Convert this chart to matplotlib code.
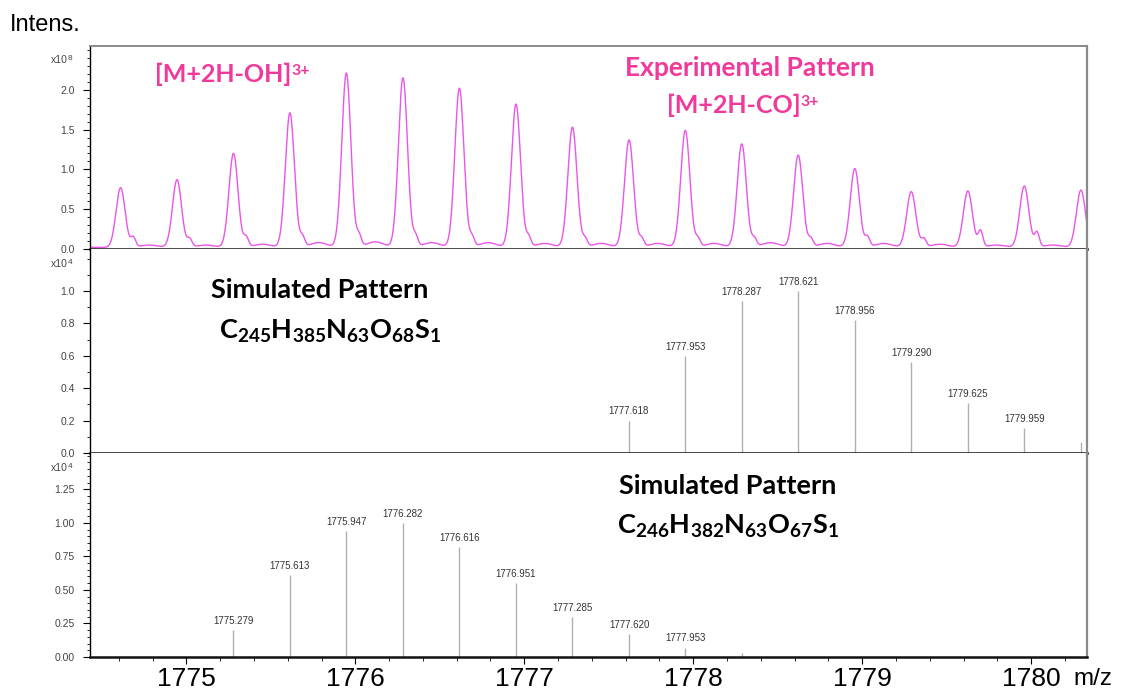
import numpy as np
import matplotlib.pyplot as plt
from matplotlib.ticker import MultipleLocator, FixedLocator

plt.rcParams['font.family'] = ['Liberation Sans', 'DejaVu Sans']
plt.rcParams['mathtext.fontset'] = 'custom'
plt.rcParams['mathtext.rm'] = 'Lato:bold'
plt.rcParams['mathtext.it'] = 'Lato:bold'
plt.rcParams['mathtext.bf'] = 'Lato:bold'

# Experimental profile: peak centres (m/z), apex heights (x1e8) and the
# small shoulder that trails each peak on the high-mass side
exp_mz = [1774.611, 1774.945, 1775.279, 1775.613, 1775.947, 1776.282,
          1776.616, 1776.951, 1777.285, 1777.620, 1777.953, 1778.287,
          1778.621, 1778.956, 1779.290, 1779.625, 1779.959, 1780.294]
exp_int = [0.75, 0.85, 1.18, 1.69, 2.19, 2.13, 2.00, 1.80, 1.51, 1.35,
           1.47, 1.30, 1.16, 0.99, 0.70, 0.71, 0.77, 0.72]
shoulder_int = [0.12, 0.10, 0.12, 0.12, 0.14, 0.13, 0.12, 0.12, 0.10, 0.10,
                0.10, 0.10, 0.10, 0.12, 0.10, 0.20, 0.18, 0.10]
valley_int = [0.03, 0.03, 0.04, 0.06, 0.07, 0.06, 0.06, 0.05, 0.05, 0.05,
              0.05, 0.06, 0.05, 0.05, 0.04, 0.03, 0.03, 0.03]

# Simulated isotope pattern, [M+2H-OH]3+ (C245H385N63O68S1), x1e4
sim1_mz = [1777.618, 1777.953, 1778.287, 1778.621, 1778.956, 1779.290,
           1779.625, 1779.959, 1780.294]
sim1_int = [0.20, 0.60, 0.94, 1.00, 0.82, 0.56, 0.31, 0.155, 0.07]
sim1_labels = ['1777.618', '1777.953', '1778.287', '1778.621', '1778.956',
               '1779.290', '1779.625', '1779.959', '']

# Simulated isotope pattern, [M+2H-CO]3+ (C246H382N63O67S1), x1e4
sim2_mz = [1775.279, 1775.613, 1775.947, 1776.282, 1776.616, 1776.951,
           1777.285, 1777.620, 1777.953, 1778.287, 1778.621]
sim2_int = [0.20, 0.61, 0.94, 1.00, 0.82, 0.55, 0.30, 0.17, 0.07, 0.03, 0.01]
sim2_labels = ['1775.279', '1775.613', '1775.947', '1776.282', '1776.616',
               '1776.951', '1777.285', '1777.620', '1777.953', '', '']

xticks = [1775, 1776, 1777, 1778, 1779, 1780]
xmin, xmax = 1774.43, 1780.33

pink = '#F0399B'
trace = '#EA55EA'
stick = '#B0B0B0'
tickgray = '#444444'


def profile(x):
    y = np.zeros_like(x)
    for c, h, s, v in zip(exp_mz, exp_int, shoulder_int, valley_int):
        y += h * np.exp(-0.5 * ((x - c) / 0.027) ** 2)
        y += s * np.exp(-0.5 * ((x - c - 0.075) / 0.014) ** 2)
        y += v * np.exp(-0.5 * ((x - c - 0.17) / 0.05) ** 2)
    return y + 0.02


def superscript(txt, base, size):
    # small raised text glued to the right edge of another text
    return plt.annotate(
        txt, xy=(1.0, 0.93), xycoords=base, ha='left', va='top',
        fontsize=size, color=base.get_color(), family=['Lato', 'DejaVu Sans'],
        fontweight='bold')


fig = plt.figure(figsize=(11.26, 6.96), dpi=100)
left, width = 90 / 1126, (1087 - 90) / 1126
ax1 = fig.add_axes([left, 1 - 249 / 696, width, 203 / 696])
ax2 = fig.add_axes([left, 1 - 453 / 696, width, 204 / 696])
ax3 = fig.add_axes([left, 1 - 657 / 696, width, 204 / 696])

for ax in (ax1, ax2, ax3):
    ax.set_xlim(xmin, xmax)
    ax.spines['left'].set_color('black')
    ax.spines['left'].set_linewidth(1.0)
    ax.spines['bottom'].set_color('#111111')
    ax.spines['bottom'].set_linewidth(1.8)
    ax.spines['right'].set_color('#8a8a8a')
    ax.spines['right'].set_linewidth(1.6)
    ax.spines['top'].set_visible(False)
    ax.tick_params(axis='y', which='major', direction='out', length=5,
                   width=0.8, labelsize=7.5, labelcolor=tickgray, pad=6)
    ax.tick_params(axis='y', which='minor', direction='out', length=2.5,
                   width=0.6)

ax1.spines['top'].set_visible(True)
ax1.spines['top'].set_color('#8a8a8a')
ax1.spines['top'].set_linewidth(1.4)

# top: experimental profile
x = np.linspace(xmin, xmax, 4000)
ax1.plot(x, profile(x), color=trace, lw=1.0)
ax1.set_ylim(0, 2.55)
ax1.yaxis.set_major_locator(FixedLocator([0, 0.5, 1.0, 1.5, 2.0]))
ax1.yaxis.set_minor_locator(MultipleLocator(0.1))
ax1.yaxis.set_major_formatter(lambda v, p: f'{v:.1f}')
ax1.set_xticks([])

# middle: simulated [M+2H-OH]3+
ax2.vlines(sim1_mz, 0, sim1_int, color=stick, lw=1.0)
for m, v, t in zip(sim1_mz, sim1_int, sim1_labels):
    ax2.annotate(t, (m, v), xytext=(0, 3), textcoords='offset points',
                 ha='center', va='bottom', fontsize=7, color='#333333')
ax2.set_ylim(0, 1.26)
ax2.yaxis.set_major_locator(FixedLocator([0, 0.2, 0.4, 0.6, 0.8, 1.0]))
ax2.yaxis.set_minor_locator(MultipleLocator(0.1))
ax2.yaxis.set_major_formatter(lambda v, p: f'{v:.1f}')
ax2.set_xticks([])

# bottom: simulated [M+2H-CO]3+
ax3.vlines(sim2_mz, 0, sim2_int, color=stick, lw=1.0)
for m, v, t in zip(sim2_mz, sim2_int, sim2_labels):
    ax3.annotate(t, (m, v), xytext=(0, 3), textcoords='offset points',
                 ha='center', va='bottom', fontsize=7, color='#333333')
ax3.set_ylim(0, 1.52)
ax3.yaxis.set_major_locator(FixedLocator([0, 0.25, 0.5, 0.75, 1.0, 1.25]))
ax3.yaxis.set_minor_locator(MultipleLocator(0.05))
ax3.yaxis.set_major_formatter(lambda v, p: f'{v:.2f}')
ax3.set_xticks(xticks)
ax3.set_xticklabels([str(t) for t in xticks])
ax3.xaxis.set_minor_locator(MultipleLocator(0.2))
ax3.tick_params(axis='x', which='major', direction='out', length=5,
                width=0.8, labelsize=19, pad=2)
ax3.tick_params(axis='x', which='minor', direction='out', length=3,
                width=0.6)

# scale factors above each y axis
for ax, txt, yy in ((ax1, 'x10', 0.93), (ax2, 'x10', 0.925),
                    (ax3, 'x10', 0.925)):
    t = ax.text(-0.022, yy, txt, transform=ax.transAxes, ha='right',
                va='center', fontsize=7.5, color=tickgray)
    ax.annotate('8' if ax is ax1 else '4', xy=(1.0, 1.05), xycoords=t,
                ha='left', va='top', fontsize=6, color=tickgray)

fig.text(10 / 1126, 1 - 25 / 696, 'Intens.', fontsize=17, va='center')
fig.text(1073 / 1126, 1 - 679 / 696, 'm/z', fontsize=17.5, va='center')

# annotations
lab = dict(family=['Lato', 'DejaVu Sans'], fontweight='bold')

t = fig.text(155 / 1126, 1 - 74 / 696, '[M+2H-OH]', color=pink,
             fontsize=18, ha='left', va='center', **lab)
superscript('3+', t, 11.5)
fig.text(750 / 1126, 1 - 68 / 696, 'Experimental Pattern',
         color=pink, fontsize=19, ha='center', va='center', **lab)
t = fig.text(667 / 1126, 1 - 105 / 696, '[M+2H-CO]', color=pink,
             fontsize=18, ha='left', va='center', **lab)
superscript('3+', t, 11.5)

fig.text(320 / 1126, 1 - 290 / 696, 'Simulated Pattern',
         color='black', fontsize=19.5, ha='center', va='center', **lab)
fig.text(330 / 1126, 1 - 331 / 696,
         r'C$\mathregular{_{245}}$H$\mathregular{_{385}}$N$\mathregular{_{63}}$'
         r'O$\mathregular{_{68}}$S$\mathregular{_{1}}$',
         color='black', fontsize=19.5, ha='center', va='center', **lab)
fig.text(728 / 1126, 1 - 486 / 696, 'Simulated Pattern',
         color='black', fontsize=19.5, ha='center', va='center', **lab)
fig.text(728 / 1126, 1 - 526 / 696,
         r'C$\mathregular{_{246}}$H$\mathregular{_{382}}$N$\mathregular{_{63}}$'
         r'O$\mathregular{_{67}}$S$\mathregular{_{1}}$',
         color='black', fontsize=19.5, ha='center', va='center', **lab)

fig.savefig('out.png', dpi=100)
